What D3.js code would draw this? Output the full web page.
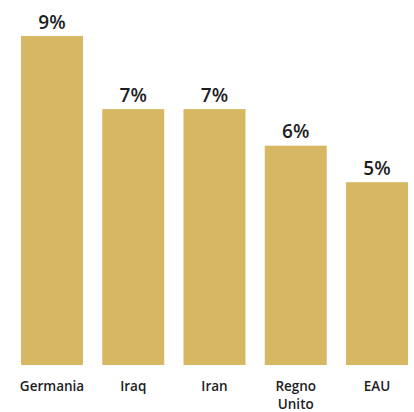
<!DOCTYPE html>
<html>
<head>
<meta charset="utf-8">
<script src="https://cdn.jsdelivr.net/npm/d3@7"></script>
<style>
  html, body { margin: 0; padding: 0; background: #fff; }
  svg { display: block; }
  text { font-family: "Open Sans", "Lato", sans-serif; fill: #1d1d1f; }
</style>
</head>
<body>
<svg id="chart" width="414" height="412"></svg>
<script>
// Share of respondents by country
const categories = ["Germania", "Iraq", "Iran", "Regno Unito", "EAU"];
const values = [9, 7, 7, 6, 5];
const valueLabels = ["9%", "7%", "7%", "6%", "5%"];

const svg = d3.select("#chart");
const baseY = 365;

const x = d3.scaleBand()
  .domain(categories)
  .range([21, 408])
  .paddingInner(0.237)
  .paddingOuter(0);

const y = d3.scaleLinear()
  .domain([0, 9])
  .range([baseY, 36]);

const data = categories.map((c, i) => ({ c, v: values[i], label: valueLabels[i] }));

svg.selectAll("rect.bar")
  .data(data)
  .join("rect")
  .attr("class", "bar")
  .attr("x", d => x(d.c))
  .attr("y", d => y(d.v))
  .attr("width", x.bandwidth())
  .attr("height", d => y(0) - y(d.v))
  .attr("fill", "#d7b862");

svg.selectAll("text.value")
  .data(data)
  .join("text")
  .attr("class", "value")
  .attr("x", d => x(d.c) + x.bandwidth() / 2)
  .attr("y", d => y(d.v) - 7.5)
  .attr("text-anchor", "middle")
  .style("font-size", "19px")
  .style("font-weight", 600)
  .text(d => d.label);

// Category labels, wrapped onto two lines where needed
const catText = svg.selectAll("text.cat")
  .data(data)
  .join("text")
  .attr("class", "cat")
  .attr("text-anchor", "middle")
  .attr("x", d => x(d.c) + x.bandwidth() / 2)
  .attr("y", 391)
  .style("font-size", "13.5px")
  .style("font-weight", 600);

catText.each(function(d) {
  const words = d.c.split(" ");
  const t = d3.select(this);
  words.forEach((w, i) => {
    t.append("tspan")
      .attr("x", x(d.c) + x.bandwidth() / 2)
      .attr("dy", i === 0 ? 0 : 17.5)
      .text(w);
  });
});
</script>
</body>
</html>
